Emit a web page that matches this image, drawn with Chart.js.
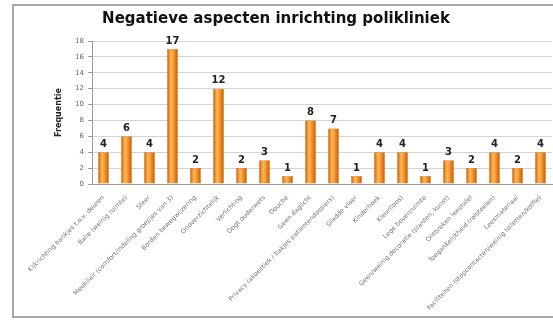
<!DOCTYPE html>
<html>
<head>
<meta charset="utf-8">
<script src="https://cdn.jsdelivr.net/npm/chart.js@4"></script>
<style>
  html, body { margin: 0; padding: 0; background: #fff; overflow: hidden; }
  #frame {
    position: absolute; left: 12px; top: 4px;
    width: 560px; height: 314px;
    border: 2px solid #a8a8a8; box-sizing: border-box;
  }
  #wrap { position: absolute; left: 0; top: 6px; width: 553px; height: 312px; }
</style>
</head>
<body>
<div id="frame"></div>
<div id="wrap"><canvas id="chart"></canvas></div>
<script>
const categories = [
  'Kijkrichting bankjes t.o.v. deuren',
  'Balie (weinig ruimte)',
  'Sfeer',
  'Meubilair (comfort/indeling groepjes van 3)',
  'Borden bewegwijzering',
  'Onoverzichtelijk',
  'Verlichting',
  'Oogt ouderwets',
  'Douche',
  'Geen daglicht',
  'Privacy (akoestiek / bakjes patientendossiers)',
  'Gladde vloer',
  'Kinderhoek',
  'Kleur(loos)',
  'Lege bovenruimte',
  'Geen/weinig decoratie (planten, kunst)',
  'Ontbreken leestafel',
  'Toegankelijkheid (rolstoelen)',
  'Leesmateriaal',
  'Faciliteiten (stopcontacten/weinig toiletten/koffie)'
];
const frequentie = [4, 6, 4, 17, 2, 12, 2, 3, 1, 8, 7, 1, 4, 4, 1, 3, 2, 4, 2, 4];
const yTicks = [0, 2, 4, 6, 8, 10, 12, 14, 16, 18];

// orange cylinder-ish shading across each bar
function barFill(c) {
  const chart = c.chart;
  const x = chart.scales && chart.scales.x;
  if (!x || !chart.chartArea) return '#f08a1c';
  const cx = x.getPixelForValue(c.dataIndex);
  const half = 5;
  const g = chart.ctx.createLinearGradient(cx - half, 0, cx + half, 0);
  g.addColorStop(0, '#d36400');
  g.addColorStop(0.35, '#ffb85c');
  g.addColorStop(0.6, '#f59a33');
  g.addColorStop(1, '#cc5e00');
  return g;
}

const valueLabels = {
  id: 'valueLabels',
  afterDatasetsDraw(chart) {
    const ctx = chart.ctx;
    const meta = chart.getDatasetMeta(0);
    ctx.save();
    ctx.font = 'bold 10px "DejaVu Sans"';
    ctx.fillStyle = '#222';
    ctx.textAlign = 'center';
    ctx.textBaseline = 'bottom';
    meta.data.forEach((bar, i) => {
      ctx.fillText(frequentie[i], bar.x, bar.y - 3);
    });
    ctx.restore();
  }
};

new Chart(document.getElementById('chart'), {
  type: 'bar',
  data: {
    labels: categories,
    datasets: [{
      label: 'Frequentie',
      data: frequentie,
      backgroundColor: barFill,
      borderColor: '#c05a00',
      borderWidth: 0.5,
      barPercentage: 0.47,
      categoryPercentage: 1
    }]
  },
  options: {
    responsive: true,
    maintainAspectRatio: false,
    animation: false,
    layout: { padding: { top: 4, left: 0, right: 1, bottom: 0 } },
    plugins: {
      legend: { display: false },
      tooltip: { enabled: false },
      title: {
        display: true,
        text: 'Negatieve aspecten inrichting polikliniek',
        color: '#111',
        font: { family: 'DejaVu Sans', size: 15, weight: 'bold' },
        padding: { top: 0, bottom: 13 }
      }
    },
    scales: {
      y: {
        min: 0,
        max: 18,
        afterBuildTicks: s => { s.ticks = yTicks.map(v => ({ value: v })); },
        afterFit: s => { s.width = 92; },
        title: {
          display: true,
          text: 'Frequentie',
          color: '#222',
          font: { family: 'DejaVu Sans', size: 8, weight: 'bold' },
          padding: { top: 54, bottom: 0 }
        },
        ticks: {
          color: '#666',
          font: { family: 'DejaVu Sans', size: 7 },
          padding: 4
        },
        grid: { color: '#d4d4d4', tickLength: 4, tickColor: '#999' },
        border: { color: '#999' }
      },
      x: {
        afterFit: s => { s.height = 134; },
        ticks: {
          color: '#777',
          font: { family: 'DejaVu Sans', size: 6.4 },
          minRotation: 45,
          maxRotation: 45,
          autoSkip: false,
          padding: 2
        },
        grid: { display: false },
        border: { color: '#999' }
      }
    }
  },
  plugins: [valueLabels]
});
</script>
</body>
</html>
